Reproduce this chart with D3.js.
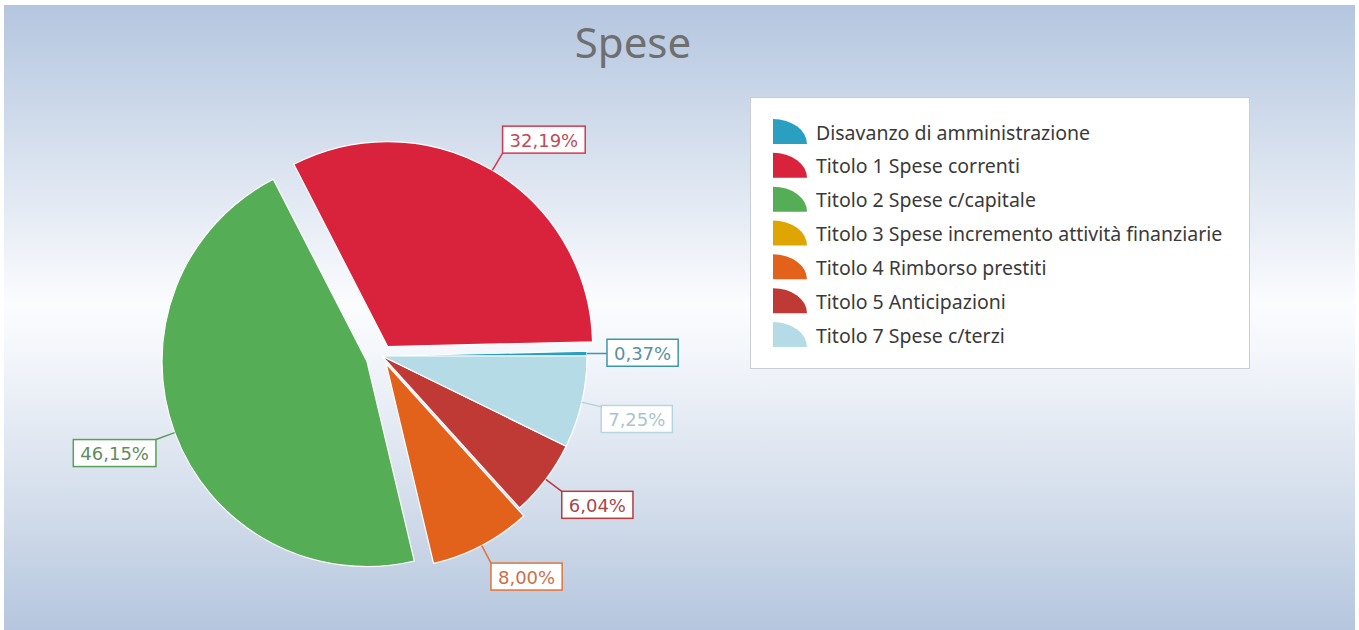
<!DOCTYPE html>
<html><head><meta charset="utf-8">
<script src="https://cdn.jsdelivr.net/npm/d3@7/dist/d3.min.js"></script>
<style>html,body{margin:0;padding:0;background:#fff;}svg{display:block;}</style>
</head><body>
<svg id="chart" width="1359" height="630"></svg>
<script>
const title = "Spese";
const categories = [
  "Disavanzo di amministrazione",
  "Titolo 1 Spese correnti",
  "Titolo 2 Spese c/capitale",
  "Titolo 3 Spese incremento attività finanziarie",
  "Titolo 4 Rimborso prestiti",
  "Titolo 5 Anticipazioni",
  "Titolo 7 Spese c/terzi"
];
const values = [0.37, 32.19, 46.15, 0, 8.00, 6.04, 7.25];
const sliceColors = ["#2b9fbf", "#d9223c", "#55ae55", "#dea503", "#e3621b", "#bf3a34", "#b4dbe6"];
const labelBorder = ["#3c96ad", "#d4374d", "#5a9e5a", "#c99a1a", "#e0733a", "#b83a3d", "#b7d5de"];
const labelText = ["#5791a2", "#c24a5a", "#5f8c5f", "#a88a3a", "#c9714a", "#a8484b", "#a9c5cd"];
const explodeBy = [0, 11, 16, 0, 9, 0, 0];

const W = 1359, H = 630;
const svg = d3.select("#chart");
const defs = svg.append("defs");
const grad = defs.append("linearGradient").attr("id", "bg").attr("x1", 0).attr("y1", 0).attr("x2", 0).attr("y2", 1);
[[0, "#b4c6df"], [0.25, "#d9e2ef"], [0.48, "#fbfcfe"], [0.56, "#f3f6fb"], [0.8, "#d3ddeb"], [1, "#b5c6de"]]
  .forEach(([o, c]) => grad.append("stop").attr("offset", o).attr("stop-color", c));

svg.append("rect").attr("width", W).attr("height", H).attr("fill", "#ffffff");
svg.append("rect").attr("x", 4).attr("y", 5).attr("width", W - 8).attr("height", H - 5).attr("fill", "url(#bg)");

svg.append("text").attr("x", 633).attr("y", 58).attr("text-anchor", "middle")
  .attr("font-family", "'Noto Sans', sans-serif").attr("font-size", 42).attr("fill", "#6f6f6f")
  .text(title);

// Pie
const cx = 382, cy = 356, R = 205, lineLen = 20;
const pie = d3.pie().sort(null).value(d => d).startAngle(Math.PI / 2).endAngle(Math.PI / 2 - 2 * Math.PI);
const arcs = pie(values);
const arc = d3.arc().innerRadius(0).outerRadius(R);
const g = svg.append("g").attr("transform", `translate(${cx},${cy})`);

const fmt = v => d3.format(".2f")(v).replace(".", ",") + "%";

arcs.forEach((a, i) => {
  if (a.value <= 0) return;
  const mid = (a.startAngle + a.endAngle) / 2;
  const dx = Math.sin(mid), dy = -Math.cos(mid);
  const off = explodeBy[i];
  g.append("path").attr("d", arc(a))
    .attr("transform", `translate(${dx * off},${dy * off})`)
    .attr("fill", sliceColors[i]).attr("stroke", "#ffffff").attr("stroke-width", 1.2);
});

// labels
const lg = svg.append("g");
arcs.forEach((a, i) => {
  if (a.value <= 0) return;
  const mid = (a.startAngle + a.endAngle) / 2;
  const dx = Math.sin(mid), dy = -Math.cos(mid);
  const off = explodeBy[i];
  const px = cx + dx * (off + R), py = cy + dy * (off + R);
  const ex = px + dx * lineLen, ey = py + dy * lineLen;
  lg.append("line").attr("x1", px).attr("y1", py).attr("x2", ex).attr("y2", ey)
    .attr("stroke", labelBorder[i]).attr("stroke-width", 1.5);
  const t = lg.append("text").attr("font-family", "'DejaVu Sans', sans-serif").attr("font-size", 18)
    .attr("fill", labelText[i]).attr("text-anchor", "middle").attr("dominant-baseline", "central")
    .text(fmt(a.value));
  const tw = t.node().getComputedTextLength();
  const bw = tw + 14, bh = 27;
  const clamp = v => Math.max(-1, Math.min(1, v));
  const bx = ex + clamp(dx * 4) * bw / 2;
  const by = ey + clamp(dy * 4) * bh / 2;
  lg.insert("rect", "text:last-child")
    .attr("x", bx - bw / 2).attr("y", by - bh / 2).attr("width", bw).attr("height", bh)
    .attr("fill", "#ffffff").attr("stroke", labelBorder[i]).attr("stroke-width", 1.5);
  t.attr("x", bx).attr("y", by + 0.5).raise();
});

// legend
const leg = svg.append("g");
leg.append("rect").attr("x", 750.5).attr("y", 97.5).attr("width", 499).attr("height", 271)
  .attr("fill", "#ffffff").attr("stroke", "#c9ced6").attr("stroke-width", 1);
const legY = d3.scalePoint().domain(categories).range([131, 334]);
categories.forEach((c, i) => {
  const y = legY(c);
  const x0 = 773, w = 34, h = 25;
  leg.append("path")
    .attr("d", `M${x0},${y + 13} L${x0},${y - 12} A${w},${h} 0 0 1 ${x0 + w},${y + 13} Z`)
    .attr("fill", sliceColors[i]);
  leg.append("text").attr("x", 816).attr("y", y + 1).attr("dominant-baseline", "central")
    .attr("font-family", "'Noto Sans', sans-serif").attr("font-size", 19.5).attr("fill", "#3a3a3a")
    .text(c);
});
</script>
</body></html>
